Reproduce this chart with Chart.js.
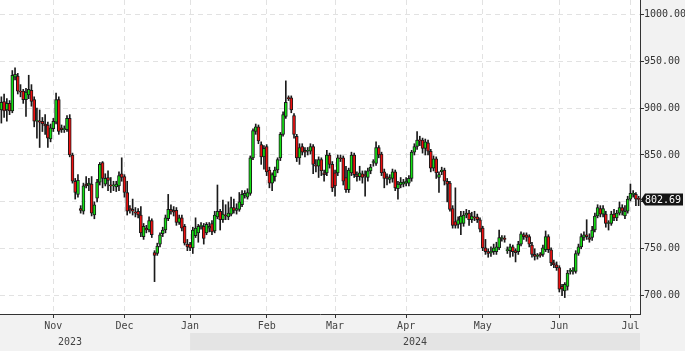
<!DOCTYPE html>
<html>
<head>
<meta charset="utf-8">
<script src="https://cdn.jsdelivr.net/npm/chart.js@4.4.1/dist/chart.umd.min.js"></script>
<style>
  html, body { margin: 0; padding: 0; background: #f2f2f2; }
  #wrap { width: 685px; height: 351px; position: relative; }
</style>
</head>
<body>
<div id="wrap"><canvas id="priceChart" width="685" height="351"></canvas></div>
<script>
// daily candles (oldest first)
const opens = [
  898,907,898,905,897,933,934,918,918,909, 914,919,909,886,886,886,883,882,867,878,
  885,909,879,877,877,889,850,822,808,793, 790,819,818,819,786,804,821,842,819,826,
  818,817,816,817,830,827,810,793,792,789, 790,786,763,772,770,780,746,745,755,766,
  770,782,792,791,791,778,783,774,755,755, 751,764,767,774,774,767,772,777,769,784,
  790,781,786,784,787,794,791,792,797,807, 805,809,847,875,880,861,848,859,834,820,
  827,834,847,872,891,911,911,892,870,847, 859,855,854,854,859,839,838,845,831,831,
  850,840,831,831,847,847,826,813,831,850, 829,827,830,829,826,833,842,841,858,851,
  832,827,824,825,832,814,818,819,820,820, 825,853,859,866,866,857,863,854,836,846,
  826,832,834,822,820,793,779,776,777,777, 786,788,781,784,784,781,772,751,747,746,
  747,747,751,761,761,748,748,752,748,747, 755,765,765,763,754,744,742,744,744,749,
  763,749,735,733,730,710,705,710,726,726, 726,745,752,762,765,762,762,770,785,793,
  787,787,777,777,787,783,788,794,785,790, 803,808,808,803
];
const highs = [
  912,915,910,908,940,943,937,925,920,921, 935,925,912,900,898,890,893,885,883,889,
  916,912,882,881,892,893,852,825,829,796, 820,827,825,827,800,824,842,843,830,833,
  826,822,822,832,847,829,822,796,803,794, 793,795,777,775,784,782,748,756,767,773,
  786,808,797,795,794,786,786,776,760,757, 773,783,776,778,777,778,778,780,790,818,
  792,802,797,800,805,803,798,810,812,812, 814,849,878,883,882,864,860,861,837,831,
  837,847,874,896,929,913,913,894,872,862, 862,858,858,862,861,845,848,847,834,855,
  852,843,834,850,850,849,838,836,853,852, 832,838,833,833,836,840,845,864,860,853,
  835,830,829,835,834,822,826,824,826,828, 855,862,875,870,868,867,866,856,849,848,
  832,837,836,825,822,796,815,784,790,790, 792,791,789,790,787,783,774,760,750,752,
  755,757,770,764,764,752,755,754,750,758, 768,767,767,765,757,750,745,746,754,769,
  765,751,738,736,732,712,714,727,729,730, 748,755,766,768,781,766,774,788,797,796,
  796,790,780,790,792,791,800,797,796,806, 819,812,810,806
];
const lows = [
  884,890,886,893,895,930,915,912,905,891, 910,902,880,868,858,875,872,858,864,875,
  883,872,874,874,875,848,820,803,805,788, 787,815,812,785,782,800,818,815,817,812,
  810,812,811,812,822,805,786,788,786,784, 783,763,760,767,768,762,715,743,752,763,
  767,780,787,785,775,776,769,754,748,748, 745,762,757,771,755,765,768,765,767,782,
  770,778,781,781,785,788,787,790,795,804, 803,807,845,872,862,840,835,828,815,812,
  822,831,844,870,889,908,895,868,843,840, 850,848,850,851,830,832,826,828,822,828,
  836,811,806,828,843,818,810,810,828,826, 822,823,820,806,822,830,838,839,847,828,
  815,818,820,821,812,803,815,816,817,817, 822,850,856,860,852,850,850,832,833,825,
  810,829,818,800,790,772,772,772,765,774, 783,775,778,780,778,768,748,744,741,742,
  744,744,749,758,757,745,741,742,736,744, 753,760,758,752,741,738,739,741,742,747,
  746,732,730,727,704,700,698,706,723,723, 724,743,750,759,760,757,759,768,783,784,
  784,773,770,775,780,780,786,786,782,788, 801,805,796,796
];
const closes = [
  906,897,905,897,935,936,918,917,909,917, 920,907,886,886,885,883,881,868,879,886,
  909,875,877,878,889,850,822,810,823,791, 817,817,820,788,797,821,840,825,825,823,
  817,818,819,828,826,810,790,792,790,788, 786,767,774,770,780,765,743,753,765,770,
  783,792,790,789,778,783,772,756,752,751, 770,772,774,775,761,776,774,768,786,790,
  781,787,785,788,794,791,793,800,808,809, 810,847,876,880,865,848,857,832,820,829,
  834,845,872,893,906,910,898,872,847,858, 853,853,855,859,840,838,845,833,829,850,
  840,815,817,847,846,822,813,834,850,829, 827,831,826,828,833,837,842,858,850,831,
  825,825,826,832,815,819,821,821,822,825, 853,859,866,865,857,864,854,836,846,831,
  829,834,822,819,792,775,775,781,785,786, 788,781,785,783,781,771,751,747,745,747,
  751,752,762,761,760,748,752,747,746,755, 766,763,762,755,744,742,742,743,751,763,
  749,735,733,730,707,707,712,724,726,727, 745,752,763,765,763,760,770,785,794,787,
  793,777,777,787,783,788,794,790,790,803, 809,809,803,802.69
];

// first candle of each month on the time axis
const monthStarts = [19, 45, 69, 97, 122, 148, 176, 204, 230];
const monthNames = ['Nov', 'Dec', 'Jan', 'Feb', 'Mar', 'Apr', 'May', 'Jun', 'Jul'];
const yearNames = ['2023', '2024'];
const yMin = 680.5;
const yMax = 1015.2;

const UP = '#14e014';
const DOWN = '#ee1010';
const INK = '#1a1a1a';
const FONT = 'DejaVu Sans Mono';

const labels = opens.map((o, i) => i);
const bodies = opens.map((o, i) => [o, closes[i]]);
const wicks = lows.map((l, i) => [l, highs[i]]);
const bodyColors = opens.map((o, i) => closes[i] >= o ? UP : DOWN);

// white plot area, year strip and the last price tag
const framePlugin = {
  id: 'frame',
  beforeDraw(chart) {
    const { ctx, chartArea: a, scales: { x } } = chart;
    ctx.save();
    ctx.fillStyle = '#ffffff';
    ctx.fillRect(a.left, a.top, a.right - a.left, a.bottom - a.top);

    const janX = x.getPixelForValue(monthStarts[2]);
    ctx.fillStyle = '#e4e4e4';
    ctx.fillRect(janX, 333, a.right - janX, 17);

    ctx.fillStyle = '#444';
    ctx.font = '10px ' + FONT;
    ctx.textAlign = 'center';
    ctx.textBaseline = 'middle';
    ctx.fillText(yearNames[0], 70, 342);
    ctx.fillText(yearNames[1], (janX + a.right) / 2, 342);
    ctx.restore();
  },
  afterDraw(chart) {
    const { ctx, chartArea: a, scales: { y } } = chart;
    const last = closes[closes.length - 1];
    const py = Math.round(y.getPixelForValue(last)) + 0.5;
    ctx.save();
    ctx.fillStyle = '#151515';
    ctx.beginPath();
    ctx.moveTo(a.right + 1, py);
    ctx.lineTo(a.right + 5, py - 6);
    ctx.lineTo(a.right + 43, py - 6);
    ctx.lineTo(a.right + 43, py + 6);
    ctx.lineTo(a.right + 5, py + 6);
    ctx.closePath();
    ctx.fill();
    ctx.fillStyle = '#ffffff';
    ctx.font = '10px ' + FONT;
    ctx.textAlign = 'left';
    ctx.textBaseline = 'middle';
    ctx.fillText(last.toFixed(2), a.right + 5, py + 0.5);
    ctx.restore();
  }
};

const ctx = document.getElementById('priceChart').getContext('2d');

new Chart(ctx, {
  type: 'bar',
  data: {
    labels,
    datasets: [
      {
        label: 'body',
        data: bodies,
        backgroundColor: bodyColors,
        borderColor: INK,
        borderWidth: 1,
        borderSkipped: false,
        barThickness: 3,
        minBarLength: 1,
        grouped: false,
        order: 1
      },
      {
        label: 'wick',
        data: wicks,
        backgroundColor: INK,
        borderWidth: 0,
        barThickness: 1,
        grouped: false,
        order: 2
      }
    ]
  },
  options: {
    responsive: false,
    animation: false,
    layout: { padding: 0 },
    plugins: {
      legend: { display: false },
      tooltip: { enabled: false }
    },
    scales: {
      x: {
        type: 'category',
        offset: true,
        afterFit: s => { s.height = 37; s.paddingLeft = 0; s.paddingRight = 0; },
        grid: {
          offset: false,
          color: '#e2e2e2',
          tickColor: '#333',
          tickLength: 4,
          drawOnChartArea: true
        },
        border: { display: true, color: '#333', width: 1, dash: [5, 4] },
        ticks: {
          autoSkip: false,
          maxRotation: 0,
          padding: 2,
          color: '#444',
          font: { family: FONT, size: 10 },
          callback: (v, i) => {
            const k = monthStarts.indexOf(i);
            return k >= 0 ? monthNames[k] : null;
          }
        }
      },
      y: {
        position: 'right',
        min: yMin,
        max: yMax,
        afterFit: s => { s.width = 45; s.paddingTop = 0; s.paddingBottom = 0; },
        grid: {
          color: '#e2e2e2',
          tickColor: '#333',
          tickLength: 4
        },
        border: { display: true, color: '#333', width: 1, dash: [5, 4] },
        ticks: {
          stepSize: 50,
          includeBounds: false,
          padding: 0,
          color: '#333',
          font: { family: FONT, size: 10 },
          callback: v => v.toFixed(2)
        }
      }
    }
  },
  plugins: [framePlugin]
});
</script>
</body>
</html>
